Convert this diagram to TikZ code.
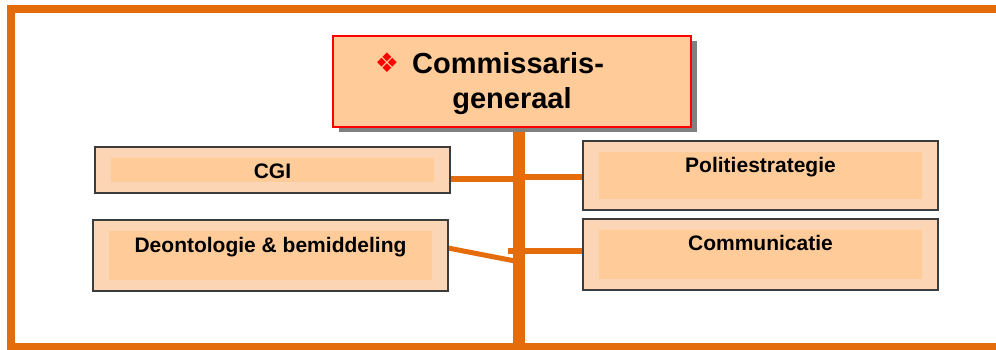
\documentclass[tikz,border=0pt]{standalone}
\usepackage{fontspec}
\setmainfont{Liberation Sans}
\newfontfamily\symfont{DejaVu Sans}
\usetikzlibrary{shadows,calc,backgrounds}
\definecolor{frameorange}{RGB}{228,108,10}
\definecolor{peachout}{RGB}{252,213,180}
\definecolor{peachin}{RGB}{255,204,153}
\definecolor{boxline}{RGB}{60,60,60}
\definecolor{shadowgray}{RGB}{128,128,128}
\begin{document}
\begin{tikzpicture}[x=1pt,y=-1pt,
  unitbox/.style={draw=boxline, line width=2pt, fill=peachout,
    minimum width=355pt, inner sep=0pt, outer sep=0pt,
    path picture={\fill[peachin]
      ([shift={(16pt,-11pt)}]path picture bounding box.north west) rectangle
      ([shift={(-16pt,11.5pt)}]path picture bounding box.south east);}},
  headbox/.style={draw=red, line width=2.5pt, fill=peachin,
    minimum width=358pt, minimum height=91pt, inner sep=0pt, outer sep=0pt,
    drop shadow={shadow xshift=6pt, shadow yshift=-5pt, fill=shadowgray, opacity=1}},
  unitlabel/.style={font=\bfseries\fontsize{21}{24}\selectfont, anchor=base, inner sep=0pt},
  headlabel/.style={font=\bfseries\fontsize{29}{34}\selectfont, inner sep=0pt},
  link/.style={draw=frameorange, line width=5.5pt},
  trunk/.style={draw=frameorange, line width=12pt},
]
\clip (0,0) rectangle (996,349);

% boxes
\node[headbox] (head) at (512,81.5) {};
\node[unitbox, minimum height=46pt] (cgi) at (272.5,170) {};
\node[unitbox, minimum height=71pt] (deo) at (270.5,255.5) {};
\node[unitbox, minimum height=69pt] (pol) at (760.5,175.5) {};
\node[unitbox, minimum height=71pt] (com) at (760.5,254.5) {};

% titles
\node[headlabel, anchor=center, text=red, font=\symfont\fontsize{27}{30}\selectfont] (bullet) at (387,63) {❖};
\node[headlabel, anchor=base west] (headA) at (412,73) {Commissaris-};
\node[headlabel, anchor=base] (headB) at (512,108) {generaal};
\node[unitlabel] (cgiT) at ([yshift=-31.5pt]cgi.north) {CGI};
\node[unitlabel] (deoT) at ([yshift=-32pt]deo.north) {Deontologie \& bemiddeling};
\node[unitlabel] (polT) at ([yshift=-31pt]pol.north) {Politiestrategie};
\node[unitlabel] (comT) at ([yshift=-31pt]com.north) {Communicatie};

% junction points on the trunk
\coordinate (trunkEnd) at (519,347);
\coordinate (cgiJ) at (516,179);
\coordinate (polJ) at (519,177);
\coordinate (deoJ) at (515,261);
\coordinate (comJ) at (508,251);

\begin{scope}[on background layer]
  % outer frame
  \draw[frameorange, line width=8pt] (1010,9) -- (11,9) -- (11,347) -- (1010,347);
  % connectors
  \draw[trunk] (head.south -| trunkEnd) -- (trunkEnd);
  \draw[link, line width=6pt] (cgi.east |- cgiJ) -- (cgiJ);
  \draw[link, line width=6pt] (polJ) -- (pol.west |- polJ);
  \draw[link, line width=5pt] ([yshift=7.5pt]deo.east) -- (deoJ);
  \draw[link, line width=6pt] (comJ) -- (com.west |- comJ);
\end{scope}
\end{tikzpicture}
\end{document}
